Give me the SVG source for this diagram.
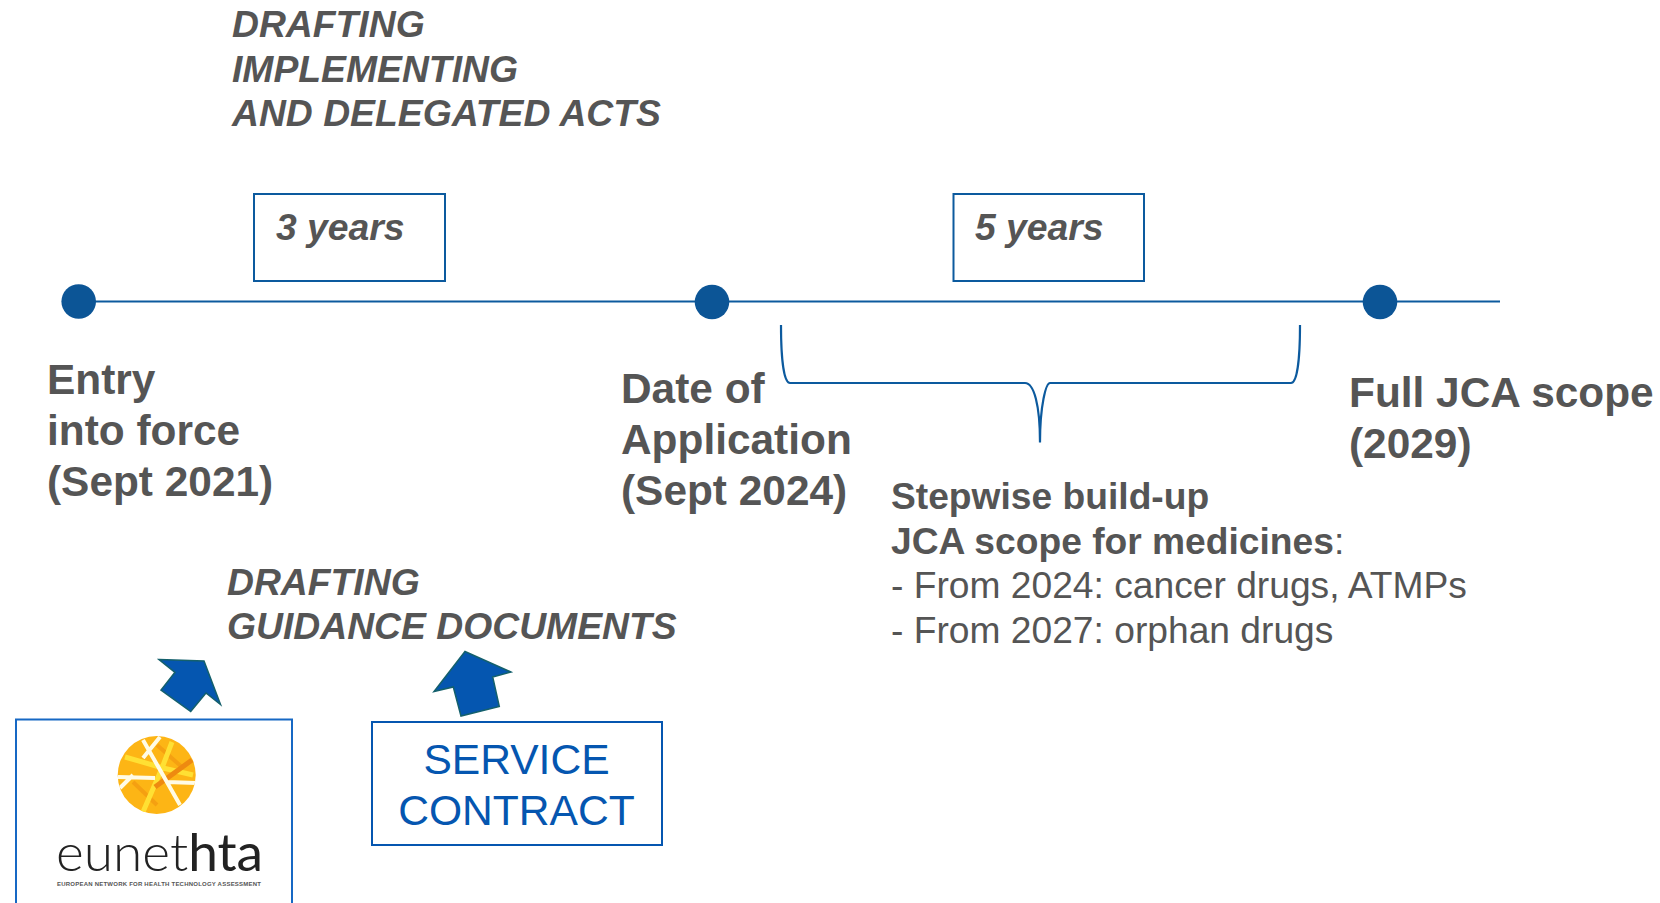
<svg xmlns="http://www.w3.org/2000/svg" width="1660" height="903" viewBox="0 0 1660 903">
<style>
text{font-family:"Liberation Sans",Arial,sans-serif;fill:#555}
.it{font-size:37.3px;font-weight:700;font-style:italic}
.lb{font-size:42.4px;font-weight:700}
.st{font-size:37.2px}
.box{fill:#fff;stroke:#0c5a9e;stroke-width:2}
.dot{fill:#0c5596}
.ln{fill:none;stroke:#0c5a9e;stroke-width:2.2}
.arrow{fill:#0556b0;stroke:#14606c;stroke-width:1.5}
.blue{font-size:42.6px;fill:#0556b0;text-anchor:middle}
</style>
<defs><clipPath id="globe"><circle cx="156.700" cy="775" r="39"/></clipPath></defs>
<rect width="1660" height="903" fill="#fff"/>
<g id="connectors">
<path class="ln" d="M79 301.500H1500"/>
<path class="ln" d="M781 325C781 360 784 383 790 383H1025C1034 383 1040 405 1040 442.500C1040 405 1046 383 1050 383H1291C1297 383 1300 360 1300 325"/>
</g>
<g id="heading-acts"><text class="it"><tspan x="232" y="37">DRAFTING</tspan><tspan x="232" y="81.500">IMPLEMENTING</tspan><tspan x="232" y="126">AND DELEGATED ACTS</tspan></text></g>
<g id="box-3-years"><rect class="box" x="254" y="194" width="191" height="87"/><text class="it" x="276" y="240">3 years</text></g>
<g id="box-5-years"><rect class="box" x="953.500" y="194" width="190.500" height="87"/><text class="it" x="975" y="240">5 years</text></g>
<g id="dot-entry"><circle class="dot" cx="78.700" cy="301.500" r="17.300"/></g>
<g id="dot-application"><circle class="dot" cx="712" cy="302" r="17.300"/></g>
<g id="dot-full"><circle class="dot" cx="1380" cy="302" r="17.300"/></g>
<g id="label-entry"><text class="lb"><tspan x="47" y="394">Entry</tspan><tspan x="47" y="445">into force</tspan><tspan x="47" y="496">(Sept 2021)</tspan></text></g>
<g id="label-application"><text class="lb"><tspan x="621" y="403">Date of</tspan><tspan x="621" y="454">Application</tspan><tspan x="621" y="505">(Sept 2024)</tspan></text></g>
<g id="label-full"><text class="lb"><tspan x="1349" y="407">Full JCA scope</tspan><tspan x="1349" y="458">(2029)</tspan></text></g>
<g id="label-stepwise"><text class="st"><tspan x="891" y="509" font-weight="700">Stepwise build-up</tspan><tspan x="891" y="554" font-weight="700">JCA scope for medicines</tspan><tspan>:</tspan><tspan x="891" y="598">- From 2024: cancer drugs, ATMPs</tspan><tspan x="891" y="643">- From 2027: orphan drugs</tspan></text></g>
<g id="heading-guidance"><text class="it"><tspan x="227" y="595">DRAFTING</tspan><tspan x="227" y="639">GUIDANCE DOCUMENTS</tspan></text></g>
<g id="arrow-eunethta"><polygon class="arrow" points="159,659.500 204,661 220.500,704.500 206,693 190.700,711.500 161,690 175,672.300"/></g>
<g id="arrow-service"><polygon class="arrow" points="465,651.500 511,672 492.700,677 499.300,706.500 461,716 453.300,687 434,691.500"/></g>
<g id="box-eunethta"><rect x="16" y="719.500" width="276" height="200" fill="#fff" stroke="#1668c4" stroke-width="2"/>
<circle cx="156.700" cy="775" r="39" fill="#fdb515"/>
<g fill="none" clip-path="url(#globe)">
<path d="M133 782L157 805M157 745L183 768" stroke="#f0920f" stroke-width="4" opacity=".6"/>
<path d="M172 742L162 768L143 812M125 757L163 768L193 775" stroke="#ffe033" stroke-width="5"/>
<path d="M155 787L192 760" stroke="#ee8a10" stroke-width="5"/>
<path d="M143 740L180 805M118 777L155 778M120 788L133 775M160 737L143 758M167 782L197 783" stroke="#fffbe6" stroke-width="4"/>
</g>
<text x="56" y="871" style="font-family:Lato,'Noto Sans',sans-serif;fill:#222" font-size="52" font-weight="300" textLength="207" lengthAdjust="spacingAndGlyphs">eunet<tspan font-weight="400">hta</tspan></text>
<text x="57" y="886" style="font-family:'Liberation Sans',sans-serif;fill:#555" font-size="6" font-weight="700" textLength="204">EUROPEAN NETWORK FOR HEALTH TECHNOLOGY ASSESSMENT</text>
</g>
<g id="box-service"><rect x="372" y="722" width="290" height="123" fill="#fff" stroke="#0556b0" stroke-width="2"/><text class="blue"><tspan x="516.500" y="774">SERVICE</tspan><tspan x="516.500" y="825">CONTRACT</tspan></text></g>
</svg>
